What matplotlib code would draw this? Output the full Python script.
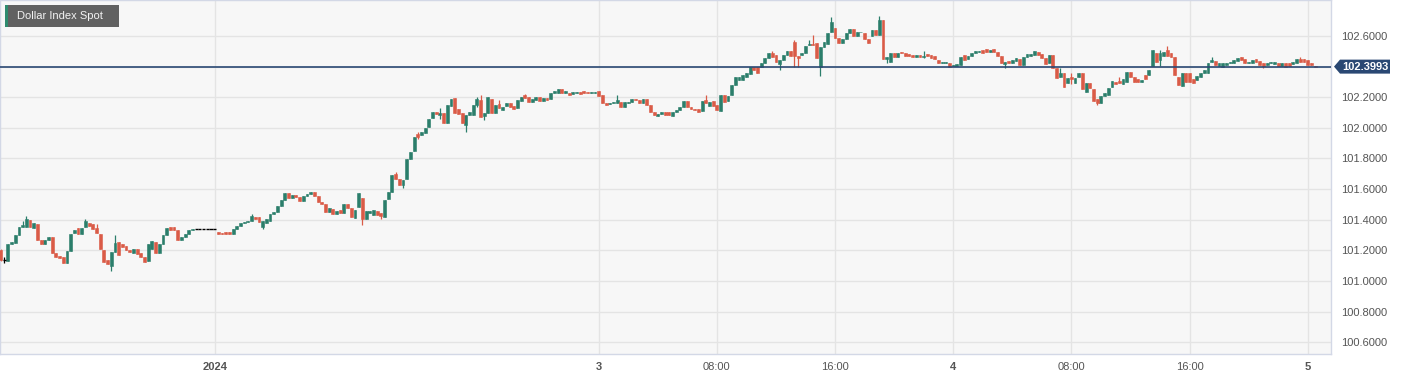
import numpy as np
import matplotlib.pyplot as plt
from matplotlib.patches import Rectangle, Polygon

plt.rcParams['font.family'] = ['Liberation Sans', 'DejaVu Sans']

# 15-minute candles, Dollar Index Spot (index = candle number)
opens = [
    101.20, 101.14, 101.13, 101.24, 101.25, 101.30, 101.355, 101.355, 101.40, 101.345,
    101.375, 101.27, 101.24, 101.265, 101.285, 101.185, 101.165, 101.16, 101.12, 101.195,
    101.315, 101.345, 101.305, 101.355, 101.38, 101.37, 101.345, 101.31, 101.20, 101.135,
    101.10, 101.19, 101.255, 101.245, 101.23, 101.205, 101.185, 101.21, 101.18, 101.16,
    101.13, 101.21, 101.255, 101.18, 101.24, 101.30, 101.355, 101.35, 101.33, 101.27,
    101.29, 101.31, 101.335, 101.34, 101.34, 101.34, 101.34, 101.34, 101.34, 101.32,
    101.315, 101.323, 101.317, 101.31, 101.337, 101.358, 101.376, 101.383, 101.39, 101.42,
    101.42, 101.35, 101.38, 101.393, 101.437, 101.452, 101.489, 101.528, 101.576, 101.539,
    101.561, 101.546, 101.524, 101.554, 101.567, 101.583, 101.554, 101.517, 101.50, 101.45,
    101.468, 101.437, 101.463, 101.441, 101.50, 101.474, 101.41, 101.48, 101.539, 101.402,
    101.445, 101.432, 101.459, 101.441, 101.419, 101.535, 101.582, 101.696, 101.665, 101.626,
    101.663, 101.794, 101.85, 101.957, 101.953, 101.964, 102.003, 102.062, 102.105, 102.084,
    102.095, 102.034, 102.142, 102.192, 102.12, 102.095, 102.018, 102.084, 102.084, 102.149,
    102.182, 102.077, 102.099, 102.186, 102.099, 102.155, 102.116, 102.142, 102.16, 102.142,
    102.127, 102.177, 102.214, 102.199, 102.171, 102.182, 102.199, 102.177, 102.193, 102.186,
    102.23, 102.23, 102.251, 102.23, 102.23, 102.221, 102.23, 102.236, 102.24, 102.236,
    102.225, 102.23, 102.24, 102.214, 102.164, 102.155, 102.16, 102.165, 102.171, 102.138,
    102.16, 102.167, 102.185, 102.182, 102.16, 102.186, 102.149, 102.106, 102.08, 102.09,
    102.103, 102.10, 102.077, 102.106, 102.117, 102.134, 102.175, 102.134, 102.125, 102.121,
    102.112, 102.182, 102.14, 102.178, 102.149, 102.112, 102.215, 102.178, 102.215, 102.28,
    102.31, 102.312, 102.334, 102.352, 102.40, 102.395, 102.395, 102.426, 102.454, 102.49,
    102.476, 102.418, 102.44, 102.476, 102.50, 102.56, 102.47, 102.476, 102.487, 102.54,
    102.55, 102.552, 102.40, 102.53, 102.55, 102.625, 102.65, 102.585, 102.552, 102.578,
    102.617, 102.643, 102.60, 102.622, 102.617, 102.578, 102.596, 102.635, 102.607, 102.705,
    102.448, 102.432, 102.49, 102.465, 102.495, 102.49, 102.48, 102.475, 102.46, 102.475,
    102.465, 102.48, 102.475, 102.47, 102.443, 102.42, 102.425, 102.425, 102.405, 102.405,
    102.41, 102.476, 102.447, 102.469, 102.49, 102.497, 102.509, 102.513, 102.497, 102.515,
    102.497, 102.469, 102.417, 102.436, 102.421, 102.434, 102.447, 102.41, 102.465, 102.47,
    102.476, 102.497, 102.482, 102.454, 102.421, 102.476, 102.389, 102.334, 102.36, 102.29,
    102.334, 102.29, 102.33, 102.36, 102.236, 102.29, 102.25, 102.186, 102.164, 102.207,
    102.214, 102.264, 102.301, 102.307, 102.286, 102.30, 102.366, 102.334, 102.317, 102.30,
    102.345, 102.345, 102.404, 102.49, 102.443, 102.47, 102.508, 102.487, 102.465, 102.334,
    102.273, 102.36, 102.356, 102.317, 102.312, 102.334, 102.36, 102.36, 102.43, 102.439,
    102.404, 102.395, 102.41, 102.421, 102.426, 102.439, 102.461, 102.447, 102.421, 102.426,
    102.447, 102.439, 102.421, 102.41, 102.421, 102.417, 102.421, 102.404, 102.421, 102.421,
    102.417, 102.426, 102.447, 102.447, 102.443, 102.421, 102.405,
]
closes = [
    101.14, 101.14, 101.245, 101.255, 101.30, 101.355, 101.365, 101.405, 101.35, 101.38,
    101.27, 101.24, 101.27, 101.285, 101.18, 101.16, 101.15, 101.12, 101.195, 101.31,
    101.335, 101.305, 101.345, 101.395, 101.36, 101.34, 101.315, 101.21, 101.125, 101.11,
    101.19, 101.25, 101.17, 101.225, 101.205, 101.19, 101.21, 101.175, 101.16, 101.125,
    101.24, 101.26, 101.18, 101.24, 101.30, 101.345, 101.33, 101.335, 101.27, 101.29,
    101.31, 101.335, 101.34, 101.34, 101.34, 101.34, 101.34, 101.34, 101.34, 101.305,
    101.305, 101.31, 101.304, 101.337, 101.358, 101.376, 101.387, 101.39, 101.424, 101.405,
    101.387, 101.39, 101.402, 101.437, 101.452, 101.489, 101.528, 101.572, 101.539, 101.561,
    101.546, 101.524, 101.554, 101.567, 101.581, 101.554, 101.517, 101.502, 101.45, 101.475,
    101.435, 101.459, 101.441, 101.502, 101.474, 101.419, 101.463, 101.572, 101.402, 101.459,
    101.457, 101.463, 101.432, 101.424, 101.532, 101.582, 101.691, 101.663, 101.626, 101.659,
    101.794, 101.844, 101.942, 101.942, 101.975, 101.996, 102.055, 102.105, 102.088, 102.095,
    102.034, 102.149, 102.188, 102.095, 102.09, 102.03, 102.084, 102.105, 102.149, 102.188,
    102.073, 102.095, 102.199, 102.099, 102.149, 102.127, 102.138, 102.16, 102.138, 102.12,
    102.182, 102.199, 102.193, 102.171, 102.186, 102.204, 102.177, 102.193, 102.182, 102.23,
    102.243, 102.251, 102.23, 102.238, 102.214, 102.236, 102.236, 102.221, 102.225, 102.225,
    102.236, 102.236, 102.208, 102.16, 102.149, 102.164, 102.168, 102.18, 102.138, 102.167,
    102.17, 102.186, 102.18, 102.16, 102.186, 102.149, 102.106, 102.084, 102.09, 102.10,
    102.082, 102.082, 102.106, 102.117, 102.134, 102.175, 102.134, 102.121, 102.117, 102.103,
    102.175, 102.164, 102.17, 102.143, 102.117, 102.215, 102.171, 102.208, 102.28, 102.33,
    102.33, 102.345, 102.356, 102.395, 102.378, 102.36, 102.426, 102.454, 102.487, 102.465,
    102.432, 102.44, 102.476, 102.504, 102.47, 102.47, 102.454, 102.49, 102.535, 102.55,
    102.54, 102.454, 102.53, 102.56, 102.62, 102.69, 102.585, 102.552, 102.578, 102.617,
    102.643, 102.596, 102.622, 102.625, 102.578, 102.556, 102.635, 102.607, 102.705, 102.448,
    102.462, 102.49, 102.465, 102.49, 102.485, 102.47, 102.47, 102.46, 102.475, 102.465,
    102.47, 102.47, 102.455, 102.447, 102.42, 102.43, 102.43, 102.40, 102.41, 102.415,
    102.46, 102.443, 102.469, 102.487, 102.50, 102.50, 102.49, 102.497, 102.509, 102.497,
    102.469, 102.425, 102.43, 102.421, 102.443, 102.454, 102.41, 102.46, 102.482, 102.482,
    102.504, 102.476, 102.454, 102.417, 102.476, 102.389, 102.323, 102.36, 102.264, 102.323,
    102.317, 102.323, 102.356, 102.251, 102.29, 102.257, 102.177, 102.164, 102.207, 102.225,
    102.258, 102.307, 102.286, 102.29, 102.317, 102.366, 102.334, 102.30, 102.30, 102.31,
    102.317, 102.377, 102.508, 102.432, 102.49, 102.497, 102.469, 102.465, 102.345, 102.28,
    102.36, 102.30, 102.301, 102.295, 102.338, 102.36, 102.377, 102.426, 102.44, 102.41,
    102.421, 102.421, 102.425, 102.432, 102.443, 102.454, 102.443, 102.421, 102.432, 102.443,
    102.432, 102.41, 102.404, 102.421, 102.432, 102.432, 102.404, 102.421, 102.40, 102.404,
    102.432, 102.447, 102.432, 102.432, 102.41, 102.41, 102.3993,
]
# visible wick extremes (candle index -> price)
wick_highs = {0: 101.21, 1: 101.16, 6: 101.39, 7: 101.425, 23: 101.405, 26: 101.37,
              31: 101.30, 68: 101.437, 107: 101.713, 113: 101.97, 119: 102.128,
              129: 102.204, 130: 102.214, 135: 102.182, 142: 102.22, 167: 102.215,
              191: 102.215, 209: 102.50, 215: 102.57, 219: 102.57, 220: 102.607,
              225: 102.725, 238: 102.73, 250: 102.50, 287: 102.389, 290: 102.356,
              303: 102.334, 314: 102.508, 316: 102.534, 328: 102.46, 352: 102.46}
wick_lows = {0: 101.13, 1: 101.12, 30: 101.065, 71: 101.337, 98: 101.365, 103: 101.408,
             109: 101.61, 113: 101.93, 119: 102.055, 126: 101.975, 129: 102.134,
             131: 102.051, 211: 102.378, 215: 102.40, 216: 102.395, 222: 102.335,
             240: 102.425, 250: 102.455, 272: 102.39, 290: 102.286, 297: 102.15,
             314: 102.404, 342: 102.39}

tick_pos = [58, 162, 194, 226, 258, 290, 322, 354]
tick_labels = ['2024', '3', '08:00', '16:00', '4', '08:00', '16:00', '5']
bold_labels = ['2024', '3', '4', '5']
y_ticks = [100.6, 100.8, 101.0, 101.2, 101.4, 101.6, 101.8, 102.0, 102.2, 102.4, 102.6]
last_price = 102.3993
title = 'Dollar Index Spot'

assert len(opens) == len(closes)

GREEN = '#2b7e6b'
RED = '#da5b47'
W, H = 1408, 380

fig = plt.figure(figsize=(W / 100, H / 100), dpi=100)
ax = fig.add_axes([0, 26 / H, 1331 / W, 354 / H])
ax.set_facecolor('#f7f7f7')

o = np.array(opens)
c = np.array(closes)
x = np.arange(len(o))
hi = np.maximum(o, c)
lo = np.minimum(o, c)
for k, v in wick_highs.items():
    hi[k] = v
for k, v in wick_lows.items():
    lo[k] = v

up = c > o
dn = c < o
flat = c == o

for mask, col in ((up, GREEN), (dn, RED)):
    ax.vlines(x[mask], lo[mask], hi[mask], color=col, lw=0.9, zorder=2)
    ax.bar(x[mask], (c - o)[mask], bottom=o[mask], width=0.78, color=col,
           edgecolor=col, lw=0.4, zorder=3)
ax.vlines(x[flat], lo[flat], hi[flat], color='black', lw=0.9, zorder=2)
ax.hlines(c[flat], x[flat] - 0.42, x[flat] + 0.42, color='black', lw=1.0, zorder=3)

ax.axhline(last_price, color='#2a4873', lw=1.2, zorder=4)

ax.set_xlim(-0.5 / 3.6926, 1330.5 / 3.6926)
ax.set_ylim(100.524, 102.834)

ax.set_xticks(tick_pos)
ax.set_xticklabels(tick_labels)
for lab in ax.get_xticklabels():
    if lab.get_text() in bold_labels:
        lab.set_fontweight('bold')
ax.set_yticks(y_ticks)
ax.set_yticklabels([f'{v:.4f}' for v in y_ticks])
ax.yaxis.tick_right()
ax.tick_params(axis='both', length=0, labelsize=8, labelcolor='#555555')
ax.tick_params(axis='y', pad=7)
ax.tick_params(axis='x', pad=6)

ax.grid(True, color='#e4e4e4', lw=1.0)
ax.set_axisbelow(True)
for sp in ax.spines.values():
    sp.set_color('#d3d8e6')
    sp.set_linewidth(1.0)

# last price tag
ypix = 26 + (last_price - 100.524) / (102.834 - 100.524) * 354
tag = [(1334, ypix), (1340, ypix + 7), (1390, ypix + 7), (1390, ypix - 7), (1340, ypix - 7)]
fig.add_artist(Polygon([(px / W, py / H) for px, py in tag], closed=True,
                       facecolor='#2a4873', edgecolor='none', transform=fig.transFigure))
fig.text(1365 / W, ypix / H, f'{last_price:.4f}', color='white', fontsize=8,
         fontweight='bold', ha='center', va='center')

# title badge
fig.add_artist(Rectangle((5 / W, (H - 27) / H), 114 / W, 22 / H, facecolor='#616161',
                         edgecolor='none', transform=fig.transFigure))
fig.add_artist(Rectangle((5 / W, (H - 27) / H), 2.5 / W, 22 / H, facecolor='#2e8b6e',
                         edgecolor='none', transform=fig.transFigure))
fig.text(17 / W, (H - 16) / H, title, color='#f2f2f2', fontsize=8, va='center', ha='left')

fig.savefig('out.png', dpi=100)
